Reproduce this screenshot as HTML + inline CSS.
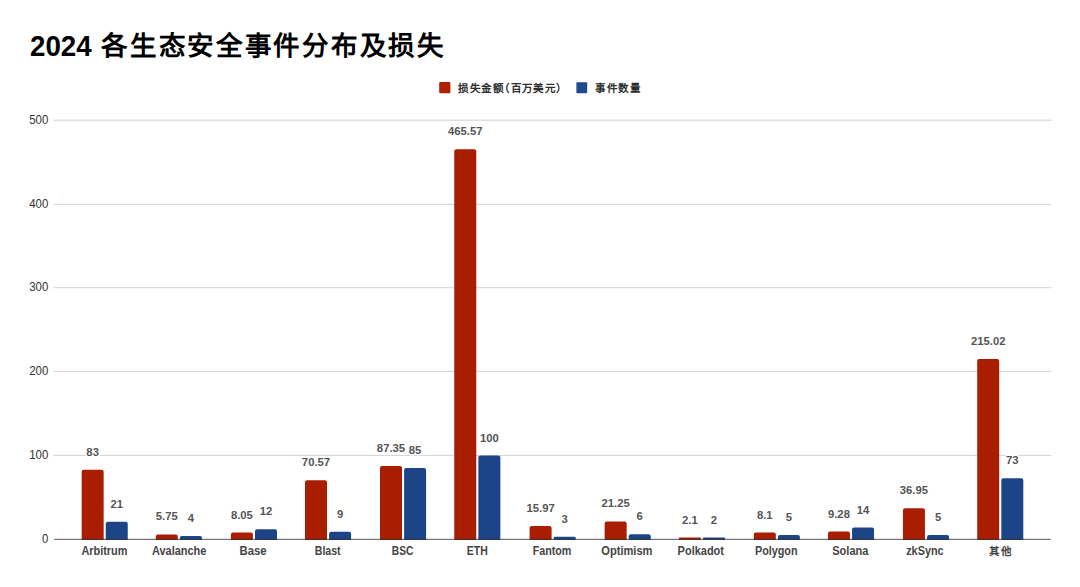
<!DOCTYPE html>
<html lang="zh-CN"><head><meta charset="utf-8">
<style>
html,body{margin:0;padding:0;background:#fff;width:1080px;height:587px;overflow:hidden}
svg{display:block}
text{font-family:"Liberation Sans",sans-serif}
.t1{font-size:30px;font-weight:bold;fill:#000}
.t2{font-size:26.5px;font-weight:bold;fill:#000}
.ya{font-size:12.2px;fill:#333;text-anchor:end}
.vl{font-size:11.3px;font-weight:bold;fill:#555;text-anchor:middle;stroke:#fff;stroke-width:3px;paint-order:stroke;stroke-linejoin:round}
.cl{font-size:12px;font-weight:bold;fill:#444;text-anchor:middle}
.cl2{font-size:10.5px;font-weight:bold;fill:#444}
.lg{font-size:10.5px;font-weight:bold;fill:#2e2e2e}
</style></head><body>
<svg width="1080" height="587" viewBox="0 0 1080 587">
<rect width="1080" height="587" fill="#fff"/>
<text class="t1" transform="translate(30,55.8) scale(0.925,1)">2024</text>
<text class="t2" x="101.2 129.9 158.6 187.3 216.0 244.7 273.4 302.1 330.8 359.5 388.2 416.9" y="55">各生态安全事件分布及损失</text>
<rect x="439.2" y="82" width="11.2" height="11.3" rx="1" fill="#b01f05"/>
<text class="lg" x="457.8 469.5 481.2 492.8 498.8 510.6 521.7 533.4 544.5 556.0" y="92">损失金额（百万美元）</text>
<rect x="576.4" y="82.2" width="10.8" height="11" rx="1" fill="#1f4a8f"/>
<text class="lg" x="594.8 606.5 617.8 629.5" y="92">事件数量</text>
<rect x="53.6" y="454.90" width="997.8" height="1" fill="#d2d2d2"/>
<text class="ya" transform="translate(48.3,458.80) scale(0.94,1)">100</text>
<rect x="53.6" y="370.90" width="997.8" height="1" fill="#d2d2d2"/>
<text class="ya" transform="translate(48.3,374.80) scale(0.94,1)">200</text>
<rect x="53.6" y="287.20" width="997.8" height="1" fill="#d2d2d2"/>
<text class="ya" transform="translate(48.3,291.10) scale(0.94,1)">300</text>
<rect x="53.6" y="203.80" width="997.8" height="1" fill="#d2d2d2"/>
<text class="ya" transform="translate(48.3,207.70) scale(0.94,1)">400</text>
<rect x="53.6" y="119.70" width="997.8" height="1" fill="#d2d2d2"/>
<text class="ya" transform="translate(48.3,123.60) scale(0.94,1)">500</text>
<text class="ya" transform="translate(48.3,542.6) scale(0.94,1)">0</text>
<path d="M81.65,539.9 V471.75 Q81.65,469.75 83.65,469.75 H101.65 Q103.65,469.75 103.65,471.75 V539.9 Z" fill="#a91d00"/>
<path d="M105.75,539.9 V523.70 Q105.75,521.70 107.75,521.70 H125.75 Q127.75,521.70 127.75,523.70 V539.9 Z" fill="#1c4587"/>
<path d="M155.80,539.9 V536.48 Q155.80,534.48 157.80,534.48 H175.80 Q177.80,534.48 177.80,536.48 V539.9 Z" fill="#a91d00"/>
<path d="M179.90,539.9 V537.62 Q179.90,535.95 181.58,535.95 H200.22 Q201.90,535.95 201.90,537.62 V539.9 Z" fill="#1c4587"/>
<path d="M230.90,539.9 V534.55 Q230.90,532.55 232.90,532.55 H250.90 Q252.90,532.55 252.90,534.55 V539.9 Z" fill="#a91d00"/>
<path d="M255.00,539.9 V531.24 Q255.00,529.24 257.00,529.24 H275.00 Q277.00,529.24 277.00,531.24 V539.9 Z" fill="#1c4587"/>
<path d="M305.00,539.9 V482.16 Q305.00,480.16 307.00,480.16 H325.00 Q327.00,480.16 327.00,482.16 V539.9 Z" fill="#a91d00"/>
<path d="M329.10,539.9 V533.76 Q329.10,531.76 331.10,531.76 H349.10 Q351.10,531.76 351.10,533.76 V539.9 Z" fill="#1c4587"/>
<path d="M380.00,539.9 V468.10 Q380.00,466.10 382.00,466.10 H400.00 Q402.00,466.10 402.00,468.10 V539.9 Z" fill="#a91d00"/>
<path d="M404.10,539.9 V470.07 Q404.10,468.07 406.10,468.07 H424.10 Q426.10,468.07 426.10,470.07 V539.9 Z" fill="#1c4587"/>
<path d="M454.25,539.9 V151.15 Q454.25,149.15 456.25,149.15 H474.25 Q476.25,149.15 476.25,151.15 V539.9 Z" fill="#a91d00"/>
<path d="M478.35,539.9 V457.50 Q478.35,455.50 480.35,455.50 H498.35 Q500.35,455.50 500.35,457.50 V539.9 Z" fill="#1c4587"/>
<path d="M529.60,539.9 V527.92 Q529.60,525.92 531.60,525.92 H549.60 Q551.60,525.92 551.60,527.92 V539.9 Z" fill="#a91d00"/>
<path d="M553.70,539.9 V538.04 Q553.70,536.79 554.96,536.79 H574.44 Q575.70,536.79 575.70,538.04 V539.9 Z" fill="#1c4587"/>
<path d="M604.65,539.9 V523.49 Q604.65,521.49 606.65,521.49 H624.65 Q626.65,521.49 626.65,523.49 V539.9 Z" fill="#a91d00"/>
<path d="M628.75,539.9 V536.27 Q628.75,534.27 630.75,534.27 H648.75 Q650.75,534.27 650.75,536.27 V539.9 Z" fill="#1c4587"/>
<path d="M678.90,539.9 V538.40 Q678.90,537.50 679.80,537.50 H700.00 Q700.90,537.50 700.90,538.40 V539.9 Z" fill="#a91d00"/>
<path d="M703.00,539.9 V538.40 Q703.00,537.50 703.90,537.50 H724.10 Q725.00,537.50 725.00,538.40 V539.9 Z" fill="#1c4587"/>
<path d="M753.80,539.9 V534.51 Q753.80,532.51 755.80,532.51 H773.80 Q775.80,532.51 775.80,534.51 V539.9 Z" fill="#a91d00"/>
<path d="M777.90,539.9 V537.11 Q777.90,535.11 779.90,535.11 H797.90 Q799.90,535.11 799.90,537.11 V539.9 Z" fill="#1c4587"/>
<path d="M827.95,539.9 V533.52 Q827.95,531.52 829.95,531.52 H847.95 Q849.95,531.52 849.95,533.52 V539.9 Z" fill="#a91d00"/>
<path d="M852.05,539.9 V529.57 Q852.05,527.57 854.05,527.57 H872.05 Q874.05,527.57 874.05,529.57 V539.9 Z" fill="#1c4587"/>
<path d="M902.95,539.9 V510.34 Q902.95,508.34 904.95,508.34 H922.95 Q924.95,508.34 924.95,510.34 V539.9 Z" fill="#a91d00"/>
<path d="M927.05,539.9 V537.11 Q927.05,535.11 929.05,535.11 H947.05 Q949.05,535.11 949.05,537.11 V539.9 Z" fill="#1c4587"/>
<path d="M977.20,539.9 V361.11 Q977.20,359.11 979.20,359.11 H997.20 Q999.20,359.11 999.20,361.11 V539.9 Z" fill="#a91d00"/>
<path d="M1001.30,539.9 V480.13 Q1001.30,478.13 1003.30,478.13 H1021.30 Q1023.30,478.13 1023.30,480.13 V539.9 Z" fill="#1c4587"/>
<rect x="54.3" y="538.8" width="996.4" height="1.1" fill="#333" fill-opacity="0.75"/>
<text class="vl" x="92.65" y="455.75">83</text>
<text class="vl" x="116.75" y="507.70">21</text>
<text class="cl" transform="translate(104.45,555) scale(0.910,1)">Arbitrum</text>
<text class="vl" x="166.80" y="520.48">5.75</text>
<text class="vl" x="190.90" y="521.95">4</text>
<text class="cl" transform="translate(179.18,555) scale(0.912,1)">Avalanche</text>
<text class="vl" x="241.90" y="518.55">8.05</text>
<text class="vl" x="266.00" y="515.24">12</text>
<text class="cl" transform="translate(253.06,555) scale(0.943,1)">Base</text>
<text class="vl" x="316.00" y="466.16">70.57</text>
<text class="vl" x="340.10" y="517.76">9</text>
<text class="cl" transform="translate(327.68,555) scale(0.880,1)">Blast</text>
<text class="vl" x="391.00" y="452.10">87.35</text>
<text class="vl" x="415.10" y="454.07">85</text>
<text class="cl" transform="translate(402.56,555) scale(0.848,1)">BSC</text>
<text class="vl" x="465.25" y="135.15">465.57</text>
<text class="vl" x="489.35" y="441.50">100</text>
<text class="cl" transform="translate(477.31,555) scale(0.874,1)">ETH</text>
<text class="vl" x="540.60" y="511.92">15.97</text>
<text class="vl" x="564.70" y="522.79">3</text>
<text class="cl" transform="translate(552.02,555) scale(0.894,1)">Fantom</text>
<text class="vl" x="615.65" y="507.49">21.25</text>
<text class="vl" x="639.75" y="520.27">6</text>
<text class="cl" transform="translate(626.88,555) scale(0.926,1)">Optimism</text>
<text class="vl" x="689.90" y="523.50">2.1</text>
<text class="vl" x="714.00" y="523.50">2</text>
<text class="cl" transform="translate(700.79,555) scale(0.916,1)">Polkadot</text>
<text class="vl" x="764.80" y="518.51">8.1</text>
<text class="vl" x="788.90" y="521.11">5</text>
<text class="cl" transform="translate(776.22,555) scale(0.900,1)">Polygon</text>
<text class="vl" x="838.95" y="517.52">9.28</text>
<text class="vl" x="863.05" y="513.57">14</text>
<text class="cl" transform="translate(850.33,555) scale(0.921,1)">Solana</text>
<text class="vl" x="913.95" y="494.34">36.95</text>
<text class="vl" x="938.05" y="521.11">5</text>
<text class="cl" transform="translate(924.87,555) scale(0.905,1)">zkSync</text>
<text class="vl" x="988.20" y="345.11">215.02</text>
<text class="vl" x="1012.30" y="464.13">73</text>
<text class="cl2" x="989.3 1000.8" y="554.6">其他</text>
</svg>
</body></html>
